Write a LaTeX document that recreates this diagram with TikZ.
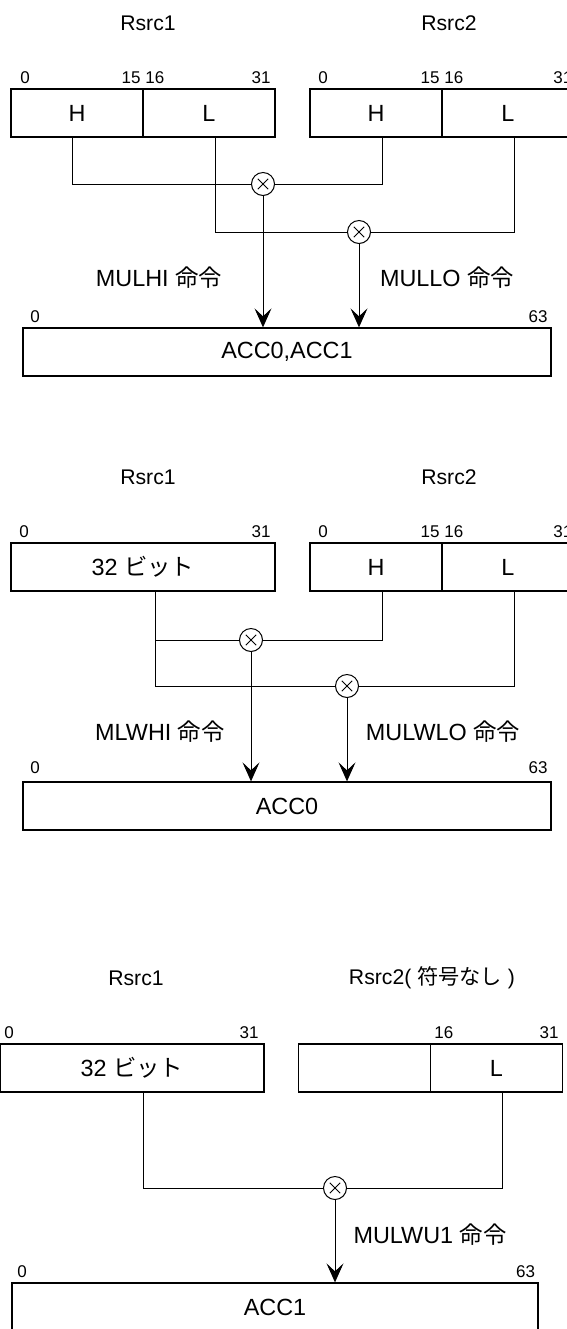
\documentclass[tikz,border=0pt]{standalone}
\usepackage{fontspec}
\setmainfont{Liberation Sans}
\newfontfamily\jp{Noto Sans CJK JP}
\usetikzlibrary{arrows.meta,positioning}

\begin{document}
\begin{tikzpicture}[x=0.5pt, y=-0.5pt, font=\fontsize{11.7}{14}\selectfont,
  field/.style={draw, line width=0.65pt, minimum height=24pt, minimum width=66pt, inner sep=0pt},
  word/.style={field, minimum width=132pt},
  accbox/.style={field, minimum width=264pt},
  regname/.style={font=\fontsize{10.6}{13}\selectfont},
  bit/.style={font=\fontsize{8.5}{10}\selectfont, inner sep=0pt},
  mul/.style={draw, circle, line width=0.5pt, minimum size=11.5pt, inner sep=0pt,
    path picture={\draw[line width=0.5pt]
      ([shift={(-2.6pt,-2.6pt)}]path picture bounding box.center) -- ++(5.2pt,5.2pt)
      ([shift={(-2.6pt,2.6pt)}]path picture bounding box.center) -- ++(5.2pt,-5.2pt);}},
  wire/.style={line width=0.5pt},
  flow/.style={-{Stealth[length=9.5pt,width=8.5pt,inset=4pt]}, line width=0.5pt}]
\useasboundingbox (0,0) rectangle (567,1329);
% MULHI / MULLO
\node[regname] (rsa1) at (148,23) {Rsrc1};
\node[regname] (rsa2) at (449,23) {Rsrc2};
\node[field] (ha1) at (77,113) {H};
\node[field] (la1) at (209,113) {L};
\node[field] (ha2) at (376,113) {H};
\node[field] (la2) at (508,113) {L};
\node[bit] (ba1) at (25,78) {0};
\node[bit, anchor=east] (ba2) at (141,78) {15};
\node[bit, anchor=west] (ba3) at (145,78) {16};
\node[bit, anchor=east] (ba4) at (271,78) {31};
\node[bit] (ba5) at (323,78) {0};
\node[bit, anchor=east] (ba6) at (440,78) {15};
\node[bit, anchor=west] (ba7) at (444,78) {16};
\node[bit, anchor=west] (ba8) at (553,78) {31};
\node[mul] (ma1) at (263,184) {};
\node[mul] (ma2) at (359,232) {};
\node (opa1) at (159,278) {MULHI {\jp 命令}};
\node (opa2) at (447,278) {MULLO {\jp 命令}};
\node[accbox] (acca) at (287,352) {ACC0,ACC1};
\node[bit] (bacc1) at (35,317) {0};
\node[bit, anchor=east] (bacc2) at (548,317) {63};
\draw[wire] ([xshift=-2.5pt]ha1.south) |- (ma1);
\draw[wire] ([xshift=3pt]ha2.south) |- (ma1);
\draw[wire] ([xshift=3pt]la1.south) |- (ma2);
\draw[wire] ([xshift=3pt]la2.south) |- (ma2);
\draw[flow] (ma1) -- (ma1 |- acca.north);
\draw[flow] (ma2) -- (ma2 |- acca.north);
% MLWHI / MULWLO
\node[regname] (rsb1) at (148,477) {Rsrc1};
\node[regname] (rsb2) at (449,477) {Rsrc2};
\node[word] (wb1) at (143,567) {32 {\jp ビット}};
\node[field] (hb2) at (376,567) {H};
\node[field] (lb2) at (508,567) {L};
\node[bit] (bb1) at (24,532) {0};
\node[bit, anchor=east] (bb2) at (271,532) {31};
\node[bit] (bb3) at (323,532) {0};
\node[bit, anchor=east] (bb4) at (440,532) {15};
\node[bit, anchor=west] (bb5) at (444,532) {16};
\node[bit, anchor=west] (bb6) at (553,532) {31};
\node[mul] (mb1) at (251,640) {};
\node[mul] (mb2) at (347,686) {};
\node (opb1) at (160,732) {MLWHI {\jp 命令}};
\node (opb2) at (443,732) {MULWLO {\jp 命令}};
\node[accbox] (accb) at (287,806) {ACC0};
\node[bit] (baccb1) at (35,768) {0};
\node[bit, anchor=east] (baccb2) at (548,768) {63};
\coordinate (tb1) at ([xshift=6pt]wb1.south);
\draw[wire] (tb1) |- (mb2);
\draw[wire] (tb1 |- mb1) -- (mb1);
\draw[wire] ([xshift=3pt]hb2.south) |- (mb1);
\draw[wire] ([xshift=3pt]lb2.south) |- (mb2);
\draw[flow] (mb1) -- (mb1 |- accb.north);
\draw[flow] (mb2) -- (mb2 |- accb.north);
% MULWU1
\node[regname] (rsc1) at (136,978) {Rsrc1};
\node[regname] (rsc2) at (432,978) {Rsrc2( {\jp 符号なし} )};
\node[word] (wc1) at (132,1068) {32 {\jp ビット}};
\node[field] (xc2) at (364.5,1068) {};
\node[field] (lc2) at (496.5,1068) {L};
\node[bit] (bc1) at (9,1033) {0};
\node[bit, anchor=east] (bc2) at (259,1033) {31};
\node[bit, anchor=west] (bc3) at (434,1033) {16};
\node[bit, anchor=east] (bc4) at (559,1033) {31};
\node[mul] (mc1) at (335,1188) {};
\node (opc1) at (430,1235) {MULWU1 {\jp 命令}};
\node[accbox, minimum width=263pt] (accc) at (275,1307) {ACC1};
\node[bit] (baccc1) at (22,1272) {0};
\node[bit, anchor=east] (baccc2) at (535.5,1272) {63};
\draw[wire] ([xshift=5.8pt]wc1.south) |- (mc1);
\draw[wire] ([xshift=2.75pt]lc2.south) |- (mc1);
\draw[flow] (mc1) -- (mc1 |- accc.north);
\end{tikzpicture}
\end{document}
